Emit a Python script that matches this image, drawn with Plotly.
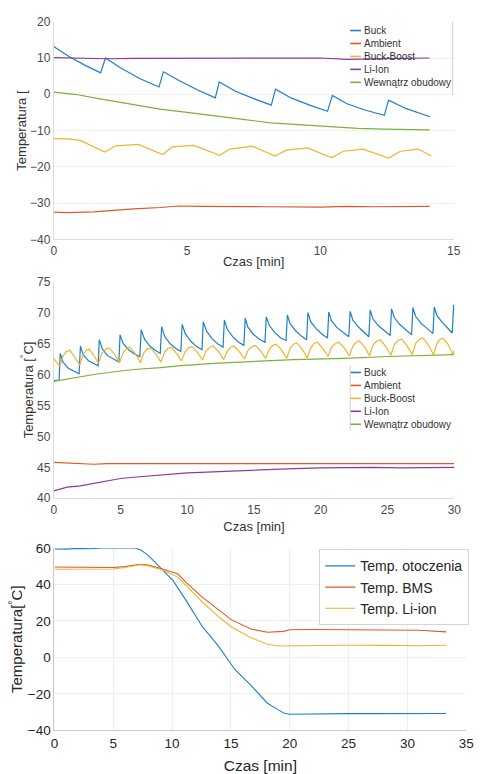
import plotly.graph_objects as go

# ---------------- Panel 1 (0-15 min, cold) ----------------
p1_buck_t = [0, 0.6, 1.2, 1.76, 1.94, 2.5, 3.24, 3.95, 4.11, 4.7, 5.4, 6.06, 6.21, 6.8, 7.5, 8.16,
             8.32, 8.9, 9.6, 10.27, 10.45, 11.0, 11.7, 12.4, 12.56, 13.2, 14.11]
p1_buck_v = [13.2, 10.3, 7.9, 5.9, 10.0, 7.3, 4.3, 2.0, 6.2, 3.8, 1.2, -1.0, 3.4, 0.9, -1.2, -3.0,
             1.4, -1.0, -3.0, -4.7, -0.3, -2.6, -4.4, -5.8, -1.6, -3.9, -6.2]
p1_amb_t = [0, 0.5, 1.5, 2.2, 3.0, 4.0, 4.7, 5.5, 6.5, 8.0, 10.0, 11.0, 12.0, 14.1]
p1_amb_v = [-32.5, -32.6, -32.4, -32.0, -31.6, -31.2, -30.8, -30.9, -31.0, -31.0, -31.1, -30.9, -31.0, -30.9]
p1_bb_t = [0, 0.5, 1.0, 1.91, 2.32, 3.17, 4.09, 4.45, 5.25, 6.23, 6.6, 7.45, 8.3, 8.73, 9.52,
           10.43, 10.86, 11.6, 12.57, 13.0, 13.67, 14.16]
p1_bb_v = [-12.2, -12.3, -12.7, -15.9, -14.2, -13.8, -16.6, -14.5, -14.1, -16.8, -15.1, -14.3, -17.0,
           -15.4, -14.8, -17.5, -15.7, -15.1, -17.6, -15.7, -15.1, -17.0]
p1_li_t = [0, 1, 2, 3, 4, 5, 6, 7, 8, 9, 10, 11, 11.5, 12, 13, 14.1]
p1_li_v = [10.1, 9.9, 9.8, 9.9, 9.9, 10.0, 10.0, 9.9, 9.9, 10.0, 10.0, 9.6, 9.7, 9.9, 9.9, 10.0]
p1_in_t = [0, 0.8, 1.68, 2.8, 3.99, 5.0, 6.06, 7.1, 8.14, 9.2, 10.3, 11.4, 12.4, 13.3, 14.1]
p1_in_v = [0.6, 0.0, -1.2, -2.7, -4.1, -5.0, -5.9, -6.9, -7.9, -8.4, -8.9, -9.4, -9.6, -9.7, -9.8]

# ---------------- Panel 2 (0-30 min, hot) ----------------
p2_buck_t = [0, 0.4, 0.49, 0.7, 1.1, 1.5, 1.9,
             2.0, 2.2, 2.6, 3.0, 3.33,
             3.41, 3.65, 4.05, 4.5, 4.88,
             4.97, 5.2, 5.6, 6.05, 6.45,
             6.55, 6.8, 7.2, 7.6, 7.98,
             8.08, 8.3, 8.7, 9.15, 9.52,
             9.62, 9.85, 10.25, 10.7, 11.1,
             11.2, 11.45, 11.85, 12.3, 12.68,
             12.78, 13.0, 13.4, 13.85, 14.24,
             14.34, 14.55, 14.95, 15.4, 15.82,
             15.92, 16.15, 16.55, 17.0, 17.4,
             17.5, 17.7, 18.1, 18.55, 18.94,
             19.04, 19.25, 19.65, 20.1, 20.5,
             20.6, 20.8, 21.2, 21.7, 22.1,
             22.2, 22.4, 22.8, 23.25, 23.6,
             23.7, 23.9, 24.3, 24.8, 25.2,
             25.3, 25.5, 25.9, 26.4, 26.8,
             26.9, 27.1, 27.5, 28.0, 28.4,
             28.5, 28.7, 29.1, 29.5, 29.85,
             29.95, 30.0]
p2_buck_v = [59.0, 59.1, 63.4, 62.0, 61.0, 60.5, 60.1,
             64.6, 63.2, 62.2, 61.7, 61.4,
             65.6, 64.1, 63.0, 62.4, 62.0,
             66.4, 65.0, 64.0, 63.3, 62.9,
             67.2, 65.7, 64.6, 63.9, 63.4,
             67.7, 66.2, 65.0, 64.2, 63.7,
             68.1, 66.6, 65.4, 64.5, 64.0,
             68.5, 67.0, 65.8, 64.9, 64.4,
             68.8, 67.3, 66.1, 65.2, 64.7,
             69.1, 67.6, 66.5, 65.7, 65.2,
             69.3, 67.9, 66.8, 65.9, 65.5,
             69.6, 68.2, 67.1, 66.2, 65.6,
             70.0, 68.5, 67.4, 66.5, 65.9,
             70.1, 68.7, 67.6, 66.7, 66.1,
             70.2, 68.8, 67.7, 66.8, 66.1,
             70.4, 69.0, 67.9, 67.0, 66.3,
             70.6, 69.2, 68.1, 67.1, 66.4,
             70.8, 69.4, 68.3, 67.3, 66.6,
             70.9, 69.5, 68.4, 67.4, 66.7,
             71.2, 70.3]
p2_amb_t = [0, 1, 2, 3, 4, 5, 6, 7, 8, 10, 12, 14, 16, 18, 20, 22, 24, 26, 28, 30]
p2_amb_v = [45.8, 45.7, 45.6, 45.5, 45.6, 45.6, 45.5, 45.6, 45.5, 45.6, 45.6, 45.5, 45.6, 45.6,
            45.6, 45.5, 45.5, 45.6, 45.5, 45.6]
p2_bb_t = [0, 0.2, 0.45, 0.7, 0.95, 1.2, 1.55, 1.95, 2.2, 2.45, 2.65, 3.0, 3.36, 3.6, 3.9, 4.15,
           4.55, 4.92, 5.2, 5.45, 5.7, 6.1, 6.5, 6.75, 7.0, 7.25, 7.65, 8.03, 8.3, 8.55, 8.8, 9.2,
           9.57, 9.85, 10.1, 10.35, 10.75, 11.15, 11.4, 11.7, 11.95, 12.35, 12.73, 13.0, 13.25,
           13.5, 13.9, 14.29, 14.55, 14.85, 15.1, 15.5, 15.87, 16.15, 16.4, 16.65, 17.05, 17.45,
           17.7, 17.95, 18.2, 18.6, 18.99, 19.25, 19.5, 19.75, 20.15, 20.55, 20.8, 21.1, 21.35,
           21.75, 22.15, 22.4, 22.65, 22.9, 23.3, 23.65, 23.9, 24.2, 24.45, 24.85, 25.25, 25.5,
           25.8, 26.05, 26.45, 26.85, 27.1, 27.4, 27.65, 28.05, 28.45, 28.7, 28.9, 29.15, 29.55,
           29.9, 30.0]
p2_bb_v = [62.6, 62.0, 61.3, 63.0, 63.7, 63.9, 62.9, 61.5, 63.2, 63.9, 64.1, 63.1, 61.8, 63.4,
           64.1, 64.3, 63.3, 61.9, 63.5, 64.2, 64.4, 63.4, 61.9, 63.5, 64.1, 64.3, 63.3, 62.0,
           63.6, 64.2, 64.4, 63.4, 62.2, 63.7, 64.3, 64.5, 63.6, 62.3, 63.8, 64.4, 64.6, 63.7,
           62.4, 63.8, 64.4, 64.6, 63.7, 62.5, 63.9, 64.5, 64.7, 63.8, 62.6, 64.1, 64.7, 64.9,
           64.0, 62.6, 64.2, 64.9, 65.1, 64.1, 62.7, 64.3, 65.0, 65.2, 64.2, 62.9, 64.4, 65.0,
           65.2, 64.3, 63.0, 64.6, 65.2, 65.4, 64.4, 63.0, 64.7, 65.4, 65.6, 64.6, 63.1, 64.8,
           65.5, 65.7, 64.7, 63.2, 65.0, 65.7, 65.9, 64.8, 63.2, 65.0, 65.6, 65.9, 64.8, 63.2, 64.0]
p2_li_t = [0, 0.5, 1, 2, 3, 4, 5, 6, 7, 8, 9, 10, 11, 12, 13, 14, 16, 18, 20, 22, 24, 26, 28, 30]
p2_li_v = [41.2, 41.5, 41.8, 42.0, 42.4, 42.8, 43.2, 43.4, 43.6, 43.8, 44.0, 44.1, 44.2, 44.3,
           44.4, 44.5, 44.6, 44.8, 44.9, 45.0, 45.0, 44.9, 45.0, 45.0]
p2_in_t = [0, 1, 2, 3, 4.4, 6, 8, 9.3, 12, 14.6, 18, 21.8, 25, 30]
p2_in_v = [58.9, 59.3, 59.7, 60.0, 60.4, 60.8, 61.1, 61.4, 61.8, 62.1, 62.4, 62.6, 62.9, 63.2]

# ---------------- Panel 3 (0-35 min) ----------------
p3_amb_t = [0, 1, 2, 3, 4, 5, 6, 6.76, 7.3, 7.87, 8.5, 9.25, 10.08, 11.18, 12.56, 13.94, 15.33,
            16.7, 18.1, 19.0, 19.47, 20.0, 21, 23, 25, 27, 29, 31, 33.3]
p3_amb_v = [59.5, 59.4, 59.8, 59.6, 60.0, 59.9, 60.2, 60.1, 59.0, 56.5, 52.5, 47.8, 42.1, 31.3,
            17.0, 6.2, -6.6, -15.3, -25.1, -28.6, -30.5, -31.1, -31.0, -30.9, -30.8, -30.8,
            -30.7, -30.7, -30.7]
p3_bms_t = [0, 2, 4, 5, 6, 6.7, 7.3, 8.0, 9.25, 10.5, 11.18, 12.56, 13.94, 15.05, 16.7, 18.1,
            19.47, 20.0, 22, 25, 28, 31, 33.3]
p3_bms_v = [49.6, 49.6, 49.4, 49.3, 49.8, 50.5, 51.1, 50.6, 48.4, 45.7, 41.2, 33.1, 26.0, 20.6,
            15.6, 13.8, 14.3, 15.2, 15.3, 15.2, 15.1, 14.9, 14.0]
p3_li_t = [0, 2, 4, 5, 6, 6.7, 7.3, 8.0, 9.25, 10.5, 11.18, 12.56, 13.94, 15.05, 16.7, 18.1,
           19.0, 20.0, 22, 25, 28, 31, 33.3]
p3_li_v = [48.4, 48.5, 48.6, 48.5, 49.3, 50.2, 50.8, 50.2, 47.8, 43.9, 39.4, 30.4, 22.4, 16.7,
           10.8, 7.2, 6.3, 6.4, 6.6, 6.7, 6.6, 6.4, 6.7]

names_12 = ["Buck", "Ambient", "Buck-Boost", "Li-Ion", "Wewnątrz obudowy"]
names_3 = ["Temp. otoczenia", "Temp. BMS", "Temp. Li-ion"]
cols = ["#1f7fc8", "#dd5a22", "#eeb52e", "#8a3aa0", "#7db23a"]

FONT = "Liberation Sans, Arial, sans-serif"
W, H = 486, 774
fig = go.Figure()

p1 = [(p1_buck_t, p1_buck_v), (p1_amb_t, p1_amb_v), (p1_bb_t, p1_bb_v), (p1_li_t, p1_li_v), (p1_in_t, p1_in_v)]
for (t, v), n, c in zip(p1, names_12, cols):
    fig.add_trace(go.Scatter(x=t, y=v, name=n, mode="lines", line=dict(color=c, width=1.2),
                             xaxis="x", yaxis="y", showlegend=False))
p2 = [(p2_buck_t, p2_buck_v), (p2_amb_t, p2_amb_v), (p2_bb_t, p2_bb_v), (p2_li_t, p2_li_v), (p2_in_t, p2_in_v)]
for (t, v), n, c in zip(p2, names_12, cols):
    fig.add_trace(go.Scatter(x=t, y=v, name=n, mode="lines", line=dict(color=c, width=1.2),
                             xaxis="x2", yaxis="y2", showlegend=False))
p3 = [(p3_amb_t, p3_amb_v), (p3_bms_t, p3_bms_v), (p3_li_t, p3_li_v)]
for (t, v), n, c in zip(p3, names_3, cols[:3]):
    fig.add_trace(go.Scatter(x=t, y=v, name=n, mode="lines", line=dict(color=c, width=1.1),
                             xaxis="x3", yaxis="y3", legend="legend"))

# compact MATLAB-style legends for panels 1 and 2 (text + short colour swatch)
annotations = []
shapes = []
for top_px in (24, 372.7):
    for i, (n, c) in enumerate(zip(names_12, cols)):
        yp = 1 - (top_px + 13.2 * i) / H
        annotations.append(dict(x=367 / W, y=yp, xref="paper", yref="paper", text=n, showarrow=False,
                                xanchor="left", yanchor="middle",
                                font=dict(family=FONT, size=10, color="#333333")))
        shapes.append(dict(type="line", xref="paper", yref="paper", x0=355 / W, x1=366 / W, y0=yp, y1=yp,
                           line=dict(color=c, width=1.6)))
# legend box edges visible in the source
shapes.append(dict(type="line", xref="paper", yref="paper", x0=460 / W, x1=460 / W,
                   y0=1 - 90 / H, y1=1 - 15 / H, line=dict(color="#d0d0d0", width=1)))
shapes.append(dict(type="line", xref="paper", yref="paper", x0=355 / W, x1=355 / W,
                   y0=1 - 432 / H, y1=1 - 366 / H, line=dict(color="#d0d0d0", width=1)))

small_tick = dict(family=FONT, size=12, color="#4a4a4a")
ax_common = dict(showline=True, linecolor="#dcdcdc", linewidth=1, ticks="", zeroline=False,
                 tickfont=small_tick)

fig.update_layout(
    width=W, height=H,
    margin=dict(l=0, r=0, t=0, b=0),
    paper_bgcolor="white", plot_bgcolor="white",
    font=dict(family=FONT, color="#333333"),
    annotations=annotations, shapes=shapes,
    xaxis=dict(domain=[0.1049, 0.9486], range=[0, 15], tickvals=[0, 5, 10, 15], anchor="y",
               showgrid=False, title=dict(text="Czas [min]", font=dict(family=FONT, size=13, color="#333"), standoff=0),
               **ax_common),
    yaxis=dict(domain=[0.6938, 0.9806], range=[-40, 20], tickvals=[-40, -30, -20, -10, 0, 10, 20], anchor="x",
               showgrid=True, gridcolor="#f0f0f0",
               title=dict(text="Temperatura [", font=dict(family=FONT, size=13, color="#333"), standoff=0),
               **ax_common),
    xaxis2=dict(domain=[0.1049, 0.95], range=[0, 30], tickvals=[0, 5, 10, 15, 20, 25, 30], anchor="y2",
                showgrid=False, title=dict(text="Czas [min]", font=dict(family=FONT, size=13, color="#333"), standoff=6),
                **ax_common),
    yaxis2=dict(domain=[0.3527, 0.6382], range=[40, 75], tickvals=[40, 45, 50, 55, 60, 65, 70, 75], anchor="x2",
                showgrid=False,
                title=dict(text="Temperatura [<sup>°</sup>C]", font=dict(family=FONT, size=13, color="#333"), standoff=0),
                **ax_common),
    xaxis3=dict(domain=[0.1064, 0.9753], range=[0, 35], tickvals=[0, 5, 10, 15, 20, 25, 30, 35], anchor="y3",
                showgrid=True, gridcolor="#efefef", showline=True, linecolor="#c8c8c8", ticks="", zeroline=False,
                tickfont=dict(family=FONT, size=13.5, color="#262626"),
                title=dict(text="Czas [min]", font=dict(family=FONT, size=15.5, color="#262626"), standoff=10)),
    yaxis3=dict(domain=[0.0469, 0.2872], range=[-40, 60], tickvals=[-40, -20, 0, 20, 40, 60], anchor="x3",
                showgrid=True, gridcolor="#efefef", showline=True, linecolor="#c8c8c8", ticks="", zeroline=False,
                tickfont=dict(family=FONT, size=13.5, color="#262626"),
                title=dict(text="Temperatura[<sup>°</sup>C]", font=dict(family=FONT, size=15, color="#262626"), standoff=1)),
    legend=dict(x=0.665, y=0.2855, xanchor="left", yanchor="top", bgcolor="white",
                bordercolor="#d4d4d4", borderwidth=1,
                font=dict(family=FONT, size=14, color="#262626")),
)

fig.write_html("out.html")
